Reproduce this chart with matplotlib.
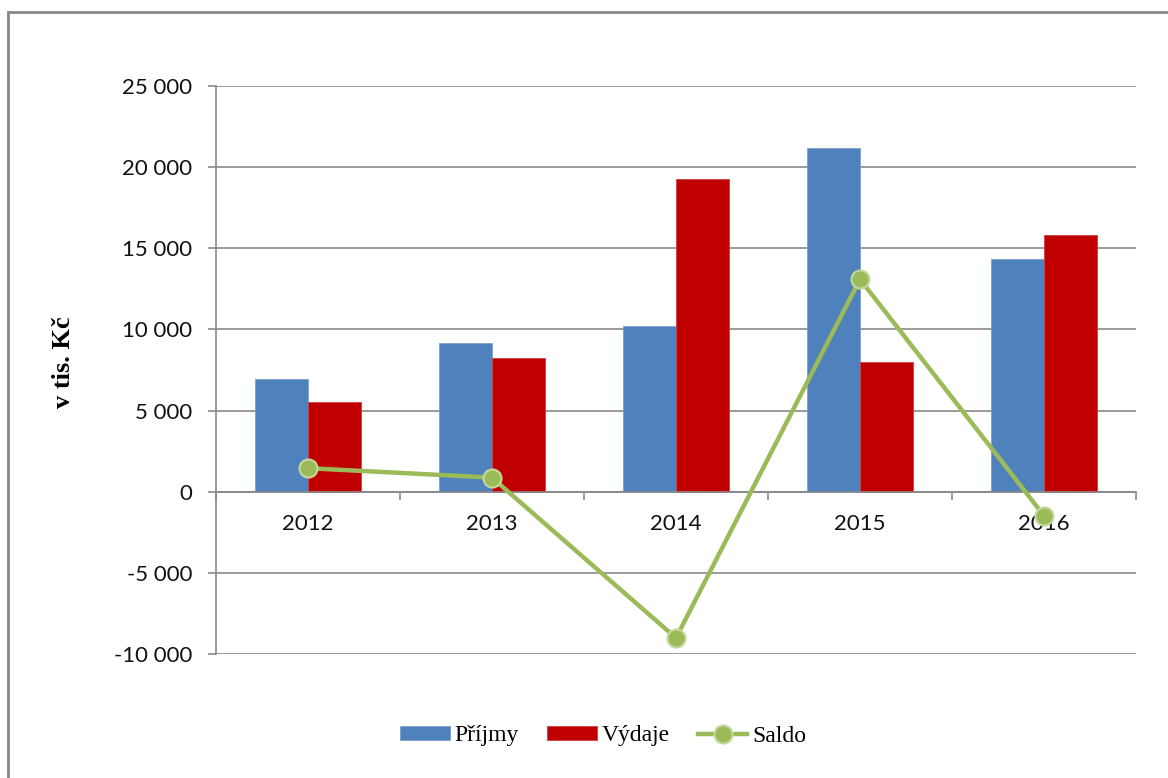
import matplotlib
matplotlib.use("Agg")
import matplotlib.pyplot as plt
from matplotlib.patches import Rectangle
from matplotlib.ticker import FuncFormatter, FixedLocator
import numpy as np

# data (v tis. Kč)
years = ["2012", "2013", "2014", "2015", "2016"]
prijmy = [6975, 9140, 10190, 21170, 14320]
vydaje = [5550, 8270, 19260, 8020, 15800]
saldo = [1450, 870, -9010, 13090, -1480]

blue = "#4F81BD"
red = "#C00000"
green = "#9BBB59"
grid_gray = "#898989"

fig = plt.figure(figsize=(11.68, 7.78), dpi=100)
ax = fig.add_axes([216 / 1168, 1 - 654 / 778, 920 / 1168, 568 / 778])

x = np.arange(len(years))
w = 0.288
b1 = ax.bar(x - w / 2, prijmy, w, color=blue, edgecolor="#7A9FCC", linewidth=0.6, zorder=2, label="Příjmy")
b2 = ax.bar(x + w / 2, vydaje, w, color=red, edgecolor="#D04040", linewidth=0.6, zorder=2, label="Výdaje")
l1, = ax.plot(x, saldo, color=green, linewidth=3.2, marker="o", markersize=13,
              markerfacecolor=green, markeredgecolor="#C4D89E", markeredgewidth=1.5,
              zorder=3, label="Saldo")

ax.set_xlim(-0.5, len(years) - 0.5)
ax.set_ylim(-10000, 25000)
ax.set_yticks(np.arange(-10000, 25001, 5000))
ax.yaxis.set_major_formatter(FuncFormatter(lambda v, p: f"{v:,.0f}".replace(",", " ")))
ax.grid(axis="y", color=grid_gray, linewidth=1.2, zorder=0)

for s in ["top", "right"]:
    ax.spines[s].set_visible(False)
ax.spines["bottom"].set_position(("data", 0))
ax.spines["bottom"].set_color(grid_gray)
ax.spines["bottom"].set_linewidth(1.2)
ax.spines["left"].set_color(grid_gray)
ax.spines["left"].set_linewidth(1.2)

ax.set_xticks(x)
ax.set_xticklabels(years)
ax.xaxis.set_minor_locator(FixedLocator(np.arange(-0.5, len(years), 1.0)))
ax.tick_params(axis="x", which="major", length=0, pad=16, labelsize=16, labelcolor="#111111")
ax.tick_params(axis="x", which="minor", length=6, width=1.2, color=grid_gray, direction="out")
ax.tick_params(axis="y", length=6, width=1.2, color=grid_gray, pad=11, labelsize=16, labelcolor="#111111")
for lab in ax.get_xticklabels() + ax.get_yticklabels():
    lab.set_fontfamily("Lato")

fig.text(63 / 1168, 1 - 362 / 778, "v tis. Kč", rotation=90, ha="center", va="center",
         fontsize=19, fontweight="bold", family="Liberation Serif")

leg = fig.legend([b1, b2, l1], ["Příjmy", "Výdaje", "Saldo"], loc="center",
                 bbox_to_anchor=(603 / 1168, 1 - 736 / 778), ncol=3, frameon=False,
                 prop={"family": "Liberation Serif", "size": 17},
                 handlelength=2.1, handleheight=0.55, handletextpad=0.2, columnspacing=1.2)

# outer chart frame (cut off at right and bottom)
fig.patches.append(Rectangle((8 / 1168, -0.1), 1.2, 1.1 - 12 / 778, transform=fig.transFigure,
                             fill=False, edgecolor="#888888", linewidth=2))

fig.savefig("out.png", dpi=100)
